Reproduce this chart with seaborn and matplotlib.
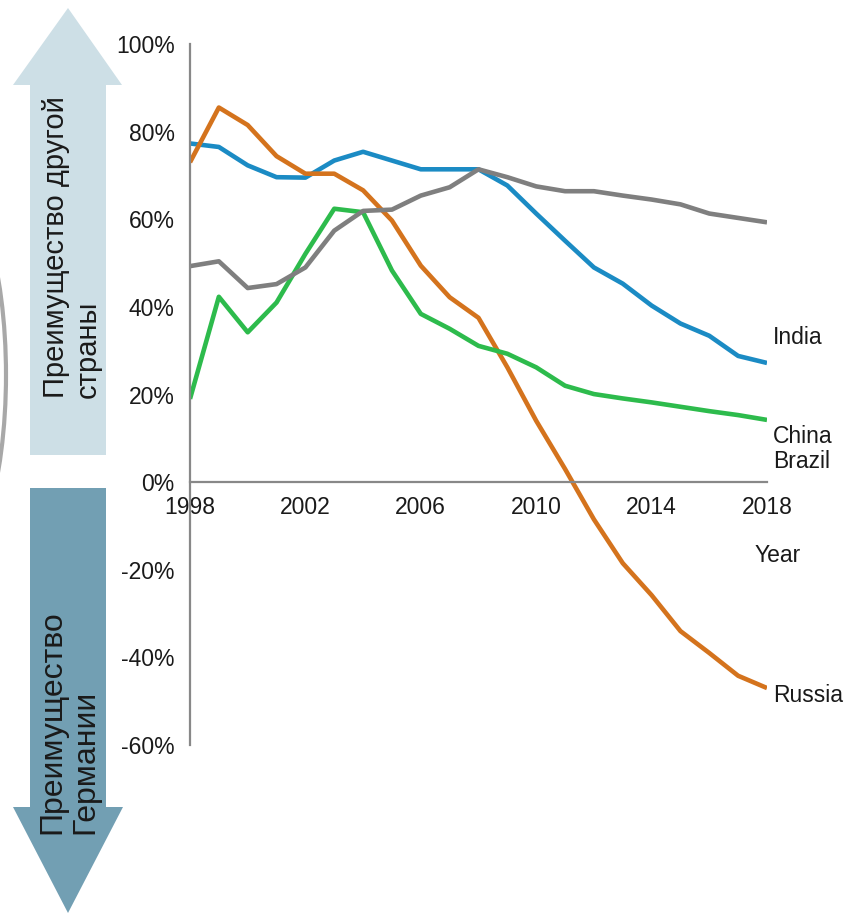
import numpy as np
import pandas as pd
import matplotlib
matplotlib.use("Agg")
import matplotlib.pyplot as plt
import seaborn as sns
from matplotlib.patches import Polygon, Arc

years = list(range(1998, 2019))
india = [77.3, 76.5, 72.3, 69.6, 69.5, 73.4, 75.4, 73.4, 71.4, 71.4, 71.4,
         67.7, 61.3, 55.1, 49.0, 45.3, 40.3, 36.2, 33.4, 28.8, 27.2]
russia = [73.0, 85.5, 81.5, 74.4, 70.4, 70.4, 66.6, 59.7, 49.4, 42.2, 37.5,
          26.2, 14.0, 3.0, -8.5, -18.5, -25.8, -34.0, -39.0, -44.2, -47.0]
green = [19.0, 42.3, 34.2, 41.0, 52.1, 62.4, 61.6, 48.3, 38.4, 35.0, 31.1,
         29.3, 26.2, 22.0, 20.1, 19.1, 18.2, 17.2, 16.2, 15.3, 14.2]
gray = [49.3, 50.4, 44.3, 45.2, 49.0, 57.4, 61.9, 62.2, 65.4, 67.3, 71.4,
        69.6, 67.5, 66.4, 66.4, 65.4, 64.5, 63.4, 61.3, 60.3, 59.3]
series_names = ["India", "Russia", "Brazil", "China"]
series_colors = ["#1b8bc4", "#d4731d", "#2dbb4c", "#7f7f7f"]
y_ticks = [-60, -40, -20, 0, 20, 40, 60, 80, 100]
x_tick_labels = [1998, 2002, 2006, 2010, 2014, 2018]
end_labels = ["India", "China\nBrazil", "Russia"]
up_text = "Преимущество другой\nстраны"
down_text = "Преимущество\nГермании"

sns.set_theme(style="white")
plt.rcParams["font.family"] = ["Liberation Sans", "DejaVu Sans"]

df = pd.DataFrame({
    "year": years * 4,
    "value": india + russia + green + gray,
    "country": sum([[n] * len(years) for n in series_names], []),
})

W, H = 850, 916
fig = plt.figure(figsize=(W / 100, H / 100), dpi=100)

# background overlay in pixel coords for arrows
bg = fig.add_axes([0, 0, 1, 1], zorder=0)
bg.set_xlim(0, W)
bg.set_ylim(H, 0)
bg.axis("off")

up = Polygon([(30, 455), (30, 85), (13, 85), (68, 8), (122, 85), (106, 85), (106, 455)],
             closed=True, facecolor="#cddfe6", edgecolor="none")
down = Polygon([(30, 488), (30, 807), (13, 807), (68, 913), (123, 807), (106, 807), (106, 488)],
               closed=True, facecolor="#729fb3", edgecolor="none")
bg.add_patch(up)
bg.add_patch(down)
bg.add_patch(Arc((-57, 375), 126, 400, theta1=-90, theta2=90, color="#a8a8a8", lw=3))

bg.text(72, 398, up_text, rotation=90, ha="left", va="center", fontsize=21,
        color="#1a1a1a", linespacing=1.2, multialignment="left", rotation_mode="anchor")
bg.text(69, 834, down_text, rotation=90, ha="left", va="center", fontsize=23,
        color="#1a1a1a", linespacing=1.12, multialignment="left", rotation_mode="anchor")

ax = fig.add_axes([190 / W, 1 - 745 / H, (767 - 190) / W, (745 - 44) / H], zorder=1)
ax.patch.set_alpha(0)
sns.lineplot(data=df, x="year", y="value", hue="country", hue_order=series_names,
             palette=series_colors, linewidth=3.3, legend=False, ax=ax)
for ln in ax.lines:
    ln.set_solid_capstyle("butt")

ax.set_xlim(1998, 2018)
ax.set_ylim(-60, 100)
ax.spines["top"].set_visible(False)
ax.spines["right"].set_visible(False)
ax.spines["bottom"].set_position(("data", 0))
for s in ["left", "bottom"]:
    ax.spines[s].set_color("#888888")
    ax.spines[s].set_linewidth(1.6)
ax.set_yticks(y_ticks)
ax.set_yticklabels([f"{v}%" for v in y_ticks], fontsize=16.5)
ax.set_xticks(years)
ax.set_xticklabels([str(y) if y in x_tick_labels else "" for y in years], fontsize=16.5)
ax.tick_params(axis="both", which="both", direction="out", color="#888888",
               width=1.6, length=6, labelcolor="#1a1a1a")
ax.tick_params(axis="x", pad=4)
ax.tick_params(axis="y", pad=4, length=7)
ax.set_xlabel("")
ax.set_ylabel("")

bg.text(773, 338, end_labels[0], ha="left", va="center", fontsize=16.5, color="#1a1a1a")
bg.text(773, 449, end_labels[1], ha="left", va="center", fontsize=16.5, color="#1a1a1a",
        linespacing=1.1)
bg.text(773, 696, end_labels[2], ha="left", va="center", fontsize=16.5, color="#1a1a1a")
bg.text(755, 556, "Year", ha="left", va="center", fontsize=16.5, color="#1a1a1a")

fig.savefig("out.png", dpi=100)
